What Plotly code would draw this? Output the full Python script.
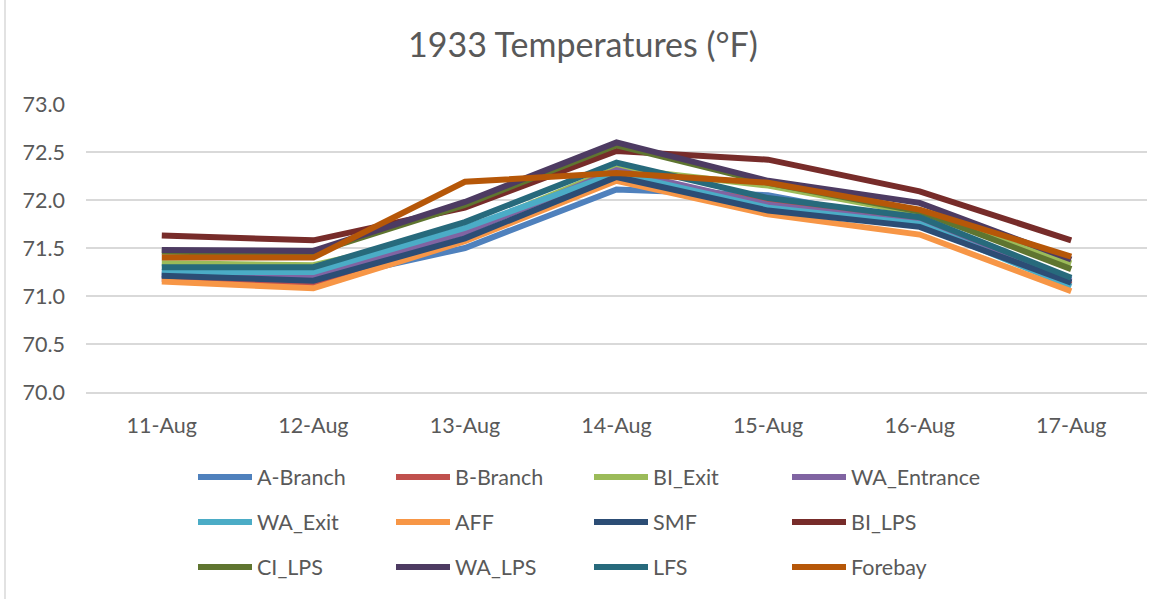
import plotly.graph_objects as go

dates = ["11-Aug", "12-Aug", "13-Aug", "14-Aug", "15-Aug", "16-Aug", "17-Aug"]

a_branch    = [71.22, 71.15, 71.50, 72.11, 72.05, 71.75, 71.17]
b_branch    = [71.18, 71.12, 71.58, 72.26, 71.97, 71.77, 71.12]
bi_exit     = [71.34, 71.32, 71.68, 72.33, 72.15, 71.86, 71.34]
wa_entrance = [71.23, 71.20, 71.66, 72.31, 71.95, 71.76, 71.15]
wa_exit     = [71.25, 71.25, 71.71, 72.28, 71.92, 71.75, 71.10]
aff         = [71.15, 71.08, 71.57, 72.20, 71.85, 71.64, 71.05]
smf         = [71.21, 71.16, 71.60, 72.24, 71.89, 71.72, 71.14]
bi_lps      = [71.63, 71.58, 71.92, 72.51, 72.42, 72.09, 71.58]
ci_lps      = [71.46, 71.45, 71.95, 72.57, 72.18, 71.88, 71.28]
wa_lps      = [71.48, 71.47, 71.98, 72.60, 72.20, 71.97, 71.38]
lfs         = [71.30, 71.30, 71.77, 72.39, 72.02, 71.82, 71.19]
forebay     = [71.40, 71.40, 72.19, 72.28, 72.18, 71.90, 71.41]

series_names = ["A-Branch", "B-Branch", "BI_Exit", "WA_Entrance", "WA_Exit", "AFF",
                "SMF", "BI_LPS", "CI_LPS", "WA_LPS", "LFS", "Forebay"]
series_values = [a_branch, b_branch, bi_exit, wa_entrance, wa_exit, aff,
                 smf, bi_lps, ci_lps, wa_lps, lfs, forebay]
series_colors = ["#4F81BD", "#C0504D", "#9BBB59", "#8064A2", "#4BACC6", "#F79646",
                 "#2C4D75", "#772C2A", "#5F7530", "#4D3B62", "#276A7C", "#B65708"]

FONT = "Lato, 'Open Sans', sans-serif"
TXT = "#595959"

fig = go.Figure()
legend_ids = ["legend", "legend2", "legend3"]
for i, (name, vals, col) in enumerate(zip(series_names, series_values, series_colors)):
    fig.add_trace(go.Scatter(
        x=dates, y=vals, name=name, mode="lines",
        line=dict(color=col, width=6),
        legend=legend_ids[i // 4],
    ))

plot_l, plot_r, plot_t, plot_b = 86, 1147, 104, 392
W, H = 1166, 599
ph = plot_b - plot_t

def leg(ypix):
    return dict(
        orientation="h", x=(193 - plot_l) / (plot_r - plot_l), xanchor="left",
        y=(plot_b - ypix) / ph, yanchor="middle",
        font=dict(family=FONT, size=21.5, color=TXT),
        entrywidth=129, entrywidthmode="pixels", itemwidth=54,
        bgcolor="rgba(0,0,0,0)", borderwidth=0, traceorder="normal",
    )

fig.update_layout(
    width=W, height=H,
    margin=dict(l=plot_l, r=W - plot_r, t=plot_t, b=H - plot_b),
    paper_bgcolor="white", plot_bgcolor="white",
    title=dict(text="1933 Temperatures (°F)", x=0.5, xanchor="center",
               y=1 - 45 / H, yanchor="middle",
               font=dict(family=FONT, size=34, color=TXT)),
    font=dict(family=FONT, color=TXT),
    showlegend=True,
    legend=leg(477), legend2=leg(522), legend3=leg(567),
    xaxis=dict(type="category", range=[-0.5, 6.5], showgrid=False, showline=True,
               linecolor="#D9D9D9", linewidth=1.5, ticks="",
               tickfont=dict(family=FONT, size=21.5, color=TXT),
               ticklabelstandoff=13),
    yaxis=dict(range=[70, 73], dtick=0.5, tickformat=".1f", showgrid=True,
               gridcolor="#D9D9D9", gridwidth=1.5, zeroline=False, showline=False,
               ticks="", tickfont=dict(family=FONT, size=21.5, color=TXT),
               ticklabelstandoff=20),
    shapes=[dict(type="line", xref="paper", yref="paper",
                 x0=-(plot_l - 5) / (plot_r - plot_l), x1=-(plot_l - 5) / (plot_r - plot_l),
                 y0=-(H - plot_b) / ph, y1=1 + plot_t / ph,
                 line=dict(color="#D9D9D9", width=1.5))],
)

fig.write_html("out.html", config={"displayModeBar": False},
               post_script="document.body.style.margin='0';")
